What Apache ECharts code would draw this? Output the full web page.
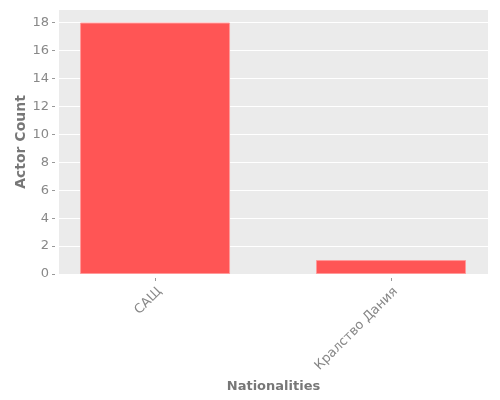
<!DOCTYPE html>
<html><head><meta charset="utf-8">
<script src="https://cdn.jsdelivr.net/npm/echarts@6/dist/echarts.min.js"></script>
<style>html,body{margin:0;padding:0;background:#fff}#c{width:500px;height:400px}</style>
</head><body><div id="c"></div>
<script>
const categories = ["САЩ", "Кралство Дания"];
const actorCounts = [18, 1];
const yTicks = [0, 2, 4, 6, 8, 10, 12, 14, 16, 18];

const chart = echarts.init(document.getElementById('c'), null, {renderer: 'canvas'});
const font = 'DejaVu Sans';
chart.setOption({
  animation: false,
  grid: {left: 59, right: 12, top: 10, bottom: 126, show: true, backgroundColor: '#EBEBEB', borderWidth: 0,
    outerBoundsMode: 'none', containLabel: false},
  xAxis: {
    type: 'value', min: -0.407, max: 1.411, offset: 4,
    name: 'Nationalities', nameLocation: 'middle', nameGap: 102, nameMoveOverlap: false,
    nameTextStyle: {fontFamily: font, fontSize: 13, color: '#777', fontWeight: 'bold'},
    axisLine: {show: false, onZero: false},
    splitLine: {show: false},
    axisTick: {show: true, customValues: [0, 1], length: 3, lineStyle: {color: '#999'}},
    axisLabel: {customValues: [0, 1], rotate: 45, margin: 7, verticalAlign: 'top', fontFamily: font, fontSize: 13, color: '#888',
      formatter: v => categories[Math.round(v)] ?? ''}
  },
  yAxis: {
    type: 'value', min: 0, max: 18.9, offset: 4,
    name: 'Actor Count', nameLocation: 'middle', nameGap: 27, nameMoveOverlap: false,
    nameTextStyle: {fontFamily: font, fontSize: 14, color: '#777', fontWeight: 'bold'},
    axisLine: {show: false, onZero: false},
    splitLine: {show: true, lineStyle: {color: '#fff', width: 1}},
    axisTick: {show: true, customValues: yTicks, length: 3, lineStyle: {color: '#999'}},
    axisLabel: {customValues: yTicks, margin: 6, fontFamily: font, fontSize: 13, color: '#888'}
  },
  series: [{
    type: 'bar',
    data: actorCounts.map((v, i) => [i, v]),
    barWidth: 150,
    itemStyle: {color: '#FF5555', borderColor: '#FF9999', borderWidth: 1}
  }]
});
</script></body></html>
